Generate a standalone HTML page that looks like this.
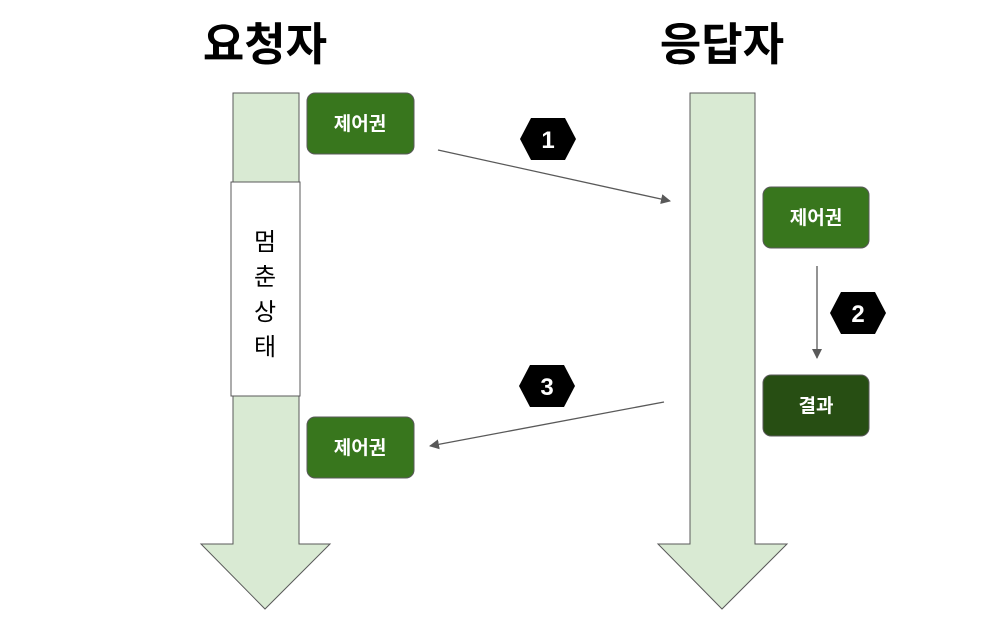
<!DOCTYPE html>
<html><head><meta charset="utf-8"><style>
html,body{margin:0;padding:0;background:#fff;}
svg{display:block;font-family:"Liberation Sans","Noto Sans CJK KR",sans-serif;}
</style></head><body>
<svg width="1000" height="640" viewBox="0 0 1000 640" xmlns="http://www.w3.org/2000/svg">
<defs>
<marker id="ah" markerWidth="10" markerHeight="10" refX="9" refY="5" orient="auto" markerUnits="userSpaceOnUse">
<path d="M0,0 L10,5 L0,10 z" fill="#595959"/>
</marker>
</defs>
<text x="265" y="60" font-size="45" font-weight="bold" text-anchor="middle" fill="#000">요청자</text>
<text x="722" y="60" font-size="45" font-weight="bold" text-anchor="middle" fill="#000">응답자</text>

<path d="M233,93 H299 V544 H330 L265,609 L201,544 H233 Z" fill="#d9ead3" stroke="#595959" stroke-width="1"/>
<path d="M690,93 H755 V544 H787 L722,609 L658,544 H690 Z" fill="#d9ead3" stroke="#595959" stroke-width="1"/>

<rect x="231" y="182" width="69" height="214" fill="#fff" stroke="#595959" stroke-width="1"/>
<text x="265" y="250" font-size="24" text-anchor="middle" fill="#000">멈</text>
<text x="265" y="285" font-size="24" text-anchor="middle" fill="#000">춘</text>
<text x="265" y="320" font-size="24" text-anchor="middle" fill="#000">상</text>
<text x="265" y="355" font-size="24" text-anchor="middle" fill="#000">태</text>

<g font-size="19" font-weight="bold" fill="#fff" text-anchor="middle">
<rect x="307" y="93" width="107" height="61" rx="8" fill="#38761d" stroke="#595959"/>
<text x="360" y="130">제어권</text>
<rect x="763" y="187" width="106" height="61" rx="8" fill="#38761d" stroke="#595959"/>
<text x="816" y="224">제어권</text>
<rect x="763" y="375" width="106" height="61" rx="8" fill="#274e13" stroke="#595959"/>
<text x="816" y="412">결과</text>
<rect x="307" y="417" width="107" height="61" rx="8" fill="#38761d" stroke="#595959"/>
<text x="360" y="454">제어권</text>
</g>

<line x1="438" y1="150" x2="670" y2="201" stroke="#595959" stroke-width="1.3" marker-end="url(#ah)"/>
<line x1="817" y1="266" x2="817" y2="358" stroke="#595959" stroke-width="1.3" marker-end="url(#ah)"/>
<line x1="664" y1="402" x2="430" y2="446" stroke="#595959" stroke-width="1.3" marker-end="url(#ah)"/>

<g font-size="24" font-weight="bold" fill="#fff" text-anchor="middle">
<polygon points="520,139 531,118 565,118 576,139 565,160 531,160" fill="#000"/>
<text x="548" y="148">1</text>
<polygon points="830,313 841,292 875,292 886,313 875,334 841,334" fill="#000"/>
<text x="858" y="322">2</text>
<polygon points="519,386 530,365 564,365 575,386 564,407 530,407" fill="#000"/>
<text x="547" y="395">3</text>
</g>
</svg>
</body></html>
